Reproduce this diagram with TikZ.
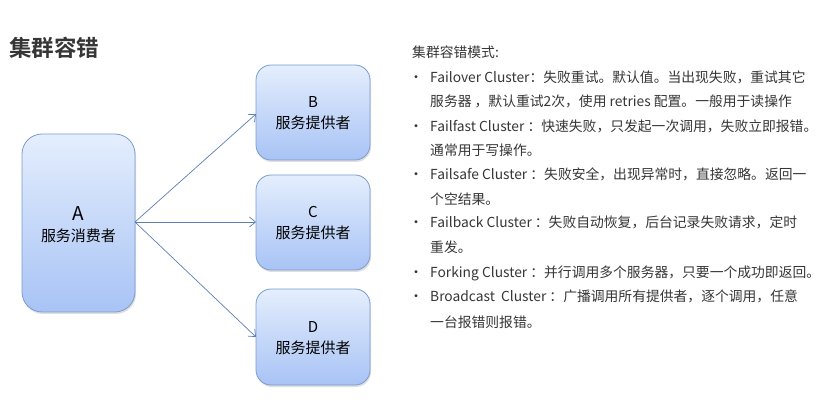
\documentclass[tikz,border=0pt]{standalone}
\usepackage{fontspec}
\setmainfont{Noto Sans CJK SC}
\newfontfamily\cjkbold{Noto Sans CJK SC Bold}
\usetikzlibrary{arrows.meta,shadows}
\definecolor{boxtop}{HTML}{E4EEFD}
\definecolor{boxbot}{HTML}{A8C3F5}
\definecolor{boxline}{HTML}{7C9CCF}
\definecolor{arrowc}{HTML}{5C7FB6}
\definecolor{txt}{HTML}{363636}
\tikzset{
  svcbox/.style={draw=boxline, line width=0.8pt, rounded corners=#1,
    top color=boxtop, bottom color=boxbot,
    drop shadow={shadow xshift=1pt, shadow yshift=-2pt, opacity=0.25}},
  link/.style={draw=arrowc, line width=0.7pt, -{Straight Barb[length=6pt,width=10pt,line width=0.7pt]}},
  boxlabel/.style={font=\fontsize{15}{19}\selectfont, text=black, align=center},
  item/.style={anchor=base west, inner sep=0pt, text=txt, font=\fontsize{13.8}{16}\selectfont},
  dot/.style={anchor=base, inner sep=0pt, text=txt, font=\fontsize{14}{16}\selectfont}
}
\begin{document}
\begin{tikzpicture}[x=1pt,y=-1pt]
\useasboundingbox (0,0) rectangle (820,406);
\fill[white] (0,0) rectangle (820,406);

% title
\node[anchor=west, inner sep=0pt, text=txt, font=\cjkbold\fontsize{22.5}{24}\selectfont] (title) at (9,48) {集群容错};

% consumer and providers
\path[svcbox=20pt] (22,134) rectangle (135,312);
\node[boxlabel] (A) at (78.5,225) {{\fontsize{19}{21}\selectfont A}\\[2pt]服务消费者};
\path[svcbox=15pt] (256,65) rectangle (370,160);
\node[boxlabel] (B) at (313,113.5) {B\\[2pt]服务提供者};
\path[svcbox=15pt] (256,175) rectangle (370,270);
\node[boxlabel] (C) at (313,223.5) {C\\[2pt]服务提供者};
\path[svcbox=15pt] (256,289) rectangle (370,385);
\node[boxlabel] (D) at (313,338) {D\\[2pt]服务提供者};

\coordinate (aout) at (135,222);
\coordinate (bin) at (256,114);
\coordinate (cin) at (256,222);
\coordinate (din) at (256,337);
\draw[link] (aout) -- (bin);
\draw[link] (aout) -- (cin);
\draw[link] (aout) -- (din);

% list of cluster modes
\node[item] (head) at (412,58) {集群容错模式:};
\foreach \n/\y in {1/83,2/132,3/180,4/228,5/278,6/302}
  \node[dot] (dot\n) at (416,\y) {•};
\node[item] (l1) at (430,83) {Failover Cluster：失败重试。默认值。当出现失败，重试其它};
\node[item] (l2) at (430,107) {服务器 ，默认重试2次，使用 retries 配置。一般用于读操作};
\node[item] (l3) at (430,132) {Failfast Cluster ：快速失败，只发起一次调用，失败立即报错。};
\node[item] (l4) at (430,156) {通常用于写操作。};
\node[item] (l5) at (430,180) {Failsafe Cluster ：失败安全，出现异常时，直接忽略。返回一};
\node[item] (l6) at (430,205) {个空结果。};
\node[item] (l7) at (430,228) {Failback Cluster ：失败自动恢复，后台记录失败请求，定时};
\node[item] (l8) at (430,253) {重发。};
\node[item] (l9) at (430,278) {Forking Cluster ：并行调用多个服务器，只要一个成功即返回。};
\node[item] (l10) at (430,302) {Broadcast\ \ Cluster ：广播调用所有提供者，逐个调用，任意};
\node[item] (l11) at (430,327) {一台报错则报错。};
\end{tikzpicture}
\end{document}
